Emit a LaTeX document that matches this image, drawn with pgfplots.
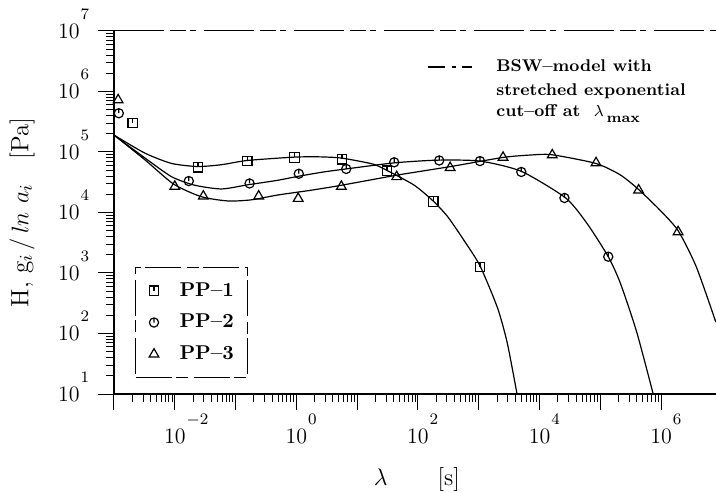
\documentclass[border=0pt]{standalone}
\usepackage{pgfplots}
\pgfplotsset{compat=1.18}

\pgfdeclareplotmark{sqpin}{%
  \pgfpathrectangle{\pgfpoint{-\pgfplotmarksize}{-\pgfplotmarksize}}{\pgfpoint{2\pgfplotmarksize}{2\pgfplotmarksize}}%
  \pgfpathmoveto{\pgfpoint{0pt}{\pgfplotmarksize}}%
  \pgfpathlineto{\pgfpointorigin}%
  \pgfusepathqstroke}
\pgfdeclareplotmark{cirpin}{%
  \pgfpathcircle{\pgfpointorigin}{\pgfplotmarksize}%
  \pgfpathmoveto{\pgfpoint{0pt}{\pgfplotmarksize}}%
  \pgfpathlineto{\pgfpointorigin}%
  \pgfusepathqstroke}

\newcommand{\tl}[1]{10\rlap{\hspace{0.5pt}\smash{\raisebox{9.5pt}{\fontsize{8}{8}\selectfont$#1$}}}}

\begin{document}
\begin{tikzpicture}
\begin{loglogaxis}[
  name=ax, at={(0,0)}, anchor=south west,
  scale only axis, width=301pt, height=181.5pt,
  xmin=1e-3, xmax=8e6, ymin=10, ymax=1e7,
  axis x line=bottom, axis y line=left,
  axis line style={-, line width=0.7pt},
  tick align=outside, major tick length=8pt, minor tick length=4pt,
  every tick/.style={line width=0.5pt, black},
  xtick={1e-3,1e-2,1e-1,1,10,100,1e3,1e4,1e5,1e6},
  xticklabels={{},{\tl{-2}},{},{\tl{0}},{},{\tl{2}},{},{\tl{4}},{},{\tl{6}}},
  ytick={10,100,1000,1e4,1e5,1e6,1e7},
  yticklabels={{\tl{1}},{\tl{2}},{\tl{3}},{\tl{4}},{\tl{5}},{\tl{6}},{\tl{7}}},
  ticklabel style={font=\fontsize{11}{13}\selectfont, inner sep=0pt},
  xticklabel style={anchor=north, yshift=-9pt},
  yticklabel style={anchor=east, xshift=-9pt},
  xlabel={$\lambda$\hspace{25pt}[s]},
  xlabel style={at={(axis description cs:0.5033,-0.2369)}, anchor=center, font=\fontsize{12}{14}\selectfont},
  ylabel={H, g$_i$\,/\,$ln\ a_i$\ \ \ [Pa]},
  ylabel style={at={(axis description cs:-0.1528,0.5)}, anchor=center, font=\fontsize{12.5}{14}\selectfont},
  legend style={at={(0.0349,0.35)}, anchor=north west, draw=black, line width=0.5pt,
    dash pattern=on 18pt off 2pt on 6pt off 3pt,
    font=\fontsize{10}{12}\selectfont\bfseries, inner xsep=5pt, inner ysep=5.5pt, row sep=3.5pt},
  legend cell align=left,
  legend image code/.code={\draw[#1, solid] plot coordinates {(4pt,0pt)}; \path (0pt,0pt) (14.5pt,0pt);},
]
% model curves
\addplot[black, line width=0.6pt, smooth, tension=0.4, forget plot] coordinates {
(1e-3,1.905e5) (3.24e-3,9.55e4) (8.91e-3,6.46e4) (2.40e-2,5.75e4) (5.89e-2,6.17e4)
(0.155,7.24e4) (0.912,8.22e4) (2.29,8.32e4) (5.50,7.94e4) (18.2,6.31e4) (31.6,4.90e4)
(87.1,2.82e4) (177.8,1.55e4) (309,8511) (575,3428) (1047,1318) (2042,263) (2951,69.2) (4266,10)};
\addplot[black, line width=0.6pt, smooth, tension=0.4, forget plot] coordinates {
(1e-3,1.905e5) (3.24e-3,7.94e4) (8.91e-3,3.89e4) (2.14e-2,2.82e4) (5.89e-2,2.45e4)
(0.162,2.88e4) (0.479,3.39e4) (1.096,3.98e4) (2.82,4.68e4) (6.61,5.25e4) (40.7,6.61e4)
(208.9,7.33e4) (1047,7.08e4) (5012,4.79e4) (2.69e4,1.74e4) (6.03e4,6607) (1.35e5,1862)
(2.14e5,676) (3.98e5,104.7) (7.41e5,10)};
\addplot[black, line width=0.6pt, smooth, tension=0.4, forget plot] coordinates {
(1e-3,1.905e5) (3.24e-3,7.41e4) (9.55e-3,2.95e4) (2.75e-2,1.82e4) (7.59e-2,1.55e4)
(0.182,1.62e4) (0.501,1.95e4) (1.778,2.34e4) (5.50,2.82e4) (46.8,4.17e4) (346.7,5.75e4)
(2512,8.13e4) (7079,8.91e4) (1.585e4,9.02e4) (8.51e4,6.46e4) (2.14e5,4.17e4) (4.27e5,2.40e4)
(9.55e5,1.096e4) (1.905e6,5012) (3.80e6,1259) (7.94e6,154.9)};
% data
\addplot[black, only marks, mark=sqpin, mark size=2.4pt, mark options={line width=0.6pt}] coordinates {
(2.04e-3,3.02e5) (2.40e-2,5.62e4) (0.155,7.08e4) (0.933,8.13e4) (5.62,7.59e4)
(30.9,4.90e4) (177.8,1.51e4) (1047,1259)};
\addlegendentry{PP--1}
\addplot[black, only marks, mark=cirpin, mark size=2.3pt, mark options={line width=0.6pt}] coordinates {
(1.20e-3,4.37e5) (1.70e-2,3.31e4) (0.170,3.02e4) (1.096,4.37e4) (6.61,5.25e4)
(40.7,6.76e4) (223.9,7.24e4) (1047,7.08e4) (5012,4.68e4) (2.57e4,1.74e4) (1.35e5,1862)};
\addlegendentry{PP--2}
\addplot[black, only marks, mark=triangle, mark size=2.8pt, mark options={line width=0.6pt}] coordinates {
(1.17e-3,7.24e5) (1e-2,2.69e4) (2.95e-2,1.86e4) (0.240,1.86e4) (1.072,1.70e4)
(5.50,2.69e4) (44.7,3.89e4) (338.8,5.50e4) (2512,8.13e4) (1.62e4,8.91e4)
(8.51e4,6.61e4) (4.27e5,2.34e4) (1.905e6,4786)};
\addlegendentry{PP--3}
\end{loglogaxis}
\draw[line width=0.5pt, dash pattern=on 25pt off 3pt on 8pt off 2pt on 3pt off 4pt] (ax.north west) -- (ax.north east);
\draw[line width=0.6pt, dash pattern=on 8.5pt off 3.5pt on 2pt off 3pt on 6pt off 20pt] ([shift={(157pt,163.5pt)}]ax.south west) -- ++(22pt,0);
\begin{scope}[every node/.style={anchor=base west, inner sep=0pt, font=\fontsize{8.5}{10}\selectfont\bfseries}]
\node at ([shift={(191pt,161pt)}]ax.south west) {BSW--model with};
\node at ([shift={(191pt,149pt)}]ax.south west) {stretched exponential};
\node at ([shift={(191pt,138.5pt)}]ax.south west) {cut--off at\ \ $\lambda$\,\raisebox{-3pt}{\fontsize{7}{8}\selectfont max}};
\end{scope}
\pgfresetboundingbox
\path[use as bounding box] ([shift={(-57pt,-49pt)}]ax.south west) rectangle ([shift={(0pt,15.5pt)}]ax.north east);
\end{tikzpicture}
\end{document}
